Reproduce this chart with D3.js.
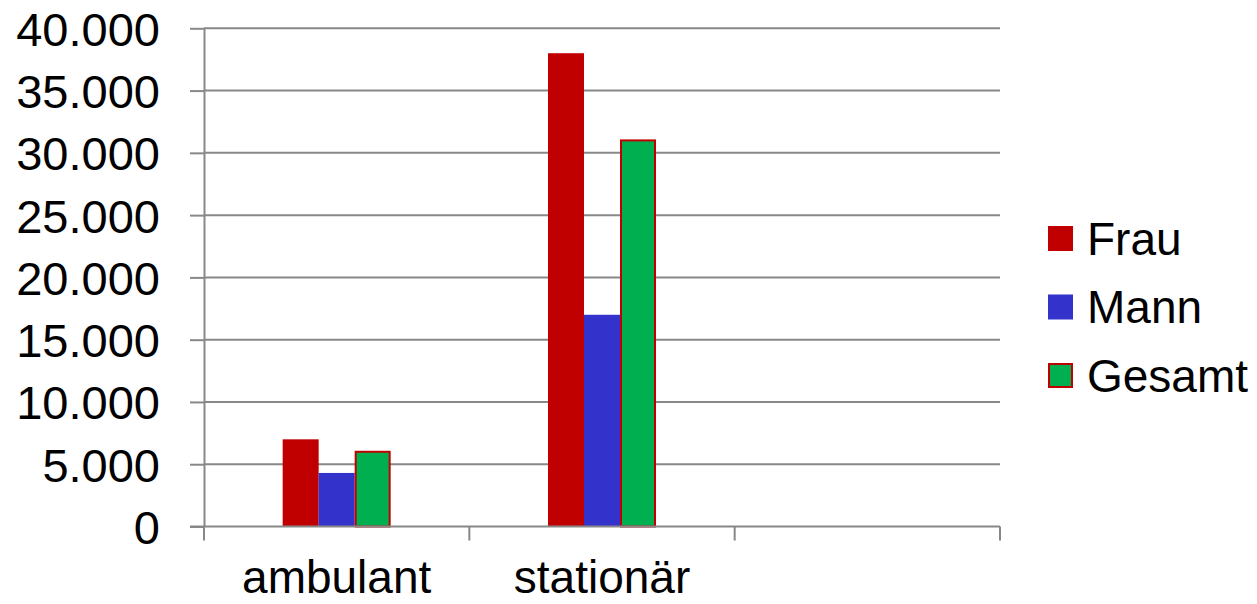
<!DOCTYPE html>
<html>
<head>
<meta charset="utf-8">
<script src="https://cdn.jsdelivr.net/npm/d3@7"></script>
<style>
  html, body { margin: 0; padding: 0; background: #fff; }
  svg { display: block; font-family: "Liberation Sans", Arial, sans-serif; }
</style>
</head>
<body>
<svg id="chart" width="1257" height="604"></svg>
<script>
const categories = ["ambulant", "stationär", ""];
const seriesNames = ["Frau", "Mann", "Gesamt"];
const frau   = [7000, 38000, null];
const mann   = [4300, 17000, null];
const gesamt = [6000, 31000, null];
const yTicks = [0, 5000, 10000, 15000, 20000, 25000, 30000, 35000, 40000];
const colors = ["#C00000", "#3333CC", "#00B050"];
const strokes = ["none", "none", "#C00000"];

const seriesValues = [frau, mann, gesamt];
const svg = d3.select("#chart");
const plotLeft = 204, plotRight = 1000, plotTop = 28.3, plotBottom = 526.5;

const x0 = d3.scaleBand().domain(categories).range([plotLeft, plotRight]).paddingInner(0).paddingOuter(0);
const groupFrac = 108 / 265.33;
const x1 = d3.scaleBand().domain(seriesNames).range([0, x0.bandwidth() * groupFrac]).padding(0);
const y = d3.scaleLinear().domain([0, 40000]).range([plotBottom, plotTop]);

const fmt = d => d3.format(",")(d).replace(/,/g, ".");
const gridColor = "#888888";

// gridlines
svg.append("g").selectAll("line").data(yTicks.filter(t => t > 0)).join("line")
  .attr("x1", plotLeft).attr("x2", plotRight)
  .attr("y1", d => y(d)).attr("y2", d => y(d))
  .attr("stroke", gridColor).attr("stroke-width", 2);

// y axis
const yAxis = svg.append("g").attr("transform", `translate(${plotLeft},0)`)
  .call(d3.axisLeft(y).tickValues(yTicks).tickFormat(fmt).tickSize(14).tickSizeOuter(0).tickPadding(30));
yAxis.select(".domain").attr("stroke", gridColor).attr("stroke-width", 2);
yAxis.selectAll(".tick line").attr("stroke", gridColor).attr("stroke-width", 2);
yAxis.selectAll(".tick text").attr("font-size", 47).attr("fill", "#000")
  .attr("font-family", "Liberation Sans, Arial, sans-serif").attr("dy", "0.36em");

// bars
const groups = svg.append("g").selectAll("g").data(categories).join("g")
  .attr("transform", c => `translate(${x0(c) + (x0.bandwidth() - x0.bandwidth() * groupFrac) / 2},0)`);
groups.selectAll("rect")
  .data((c, ci) => seriesNames.map((s, si) => ({ s, si, v: seriesValues[si][ci] })).filter(d => d.v != null))
  .join("rect")
  .attr("x", d => x1(d.s) + (d.si === 2 ? 1 : 0))
  .attr("width", d => x1.bandwidth() - (d.si === 2 ? 2 : 0))
  .attr("y", d => y(d.v))
  .attr("height", d => plotBottom - y(d.v))
  .attr("fill", d => colors[d.si])
  .attr("stroke", d => strokes[d.si])
  .attr("stroke-width", 2);

// x axis
const xAxis = svg.append("g").attr("transform", `translate(0,${plotBottom})`);
xAxis.append("line").attr("x1", plotLeft - 14).attr("x2", plotRight).attr("y1", 0).attr("y2", 0)
  .attr("stroke", gridColor).attr("stroke-width", 2);
const tickXs = categories.map(c => x0(c)).concat([x0(categories[categories.length - 1]) + x0.bandwidth()]);
xAxis.selectAll("line.t").data(tickXs).join("line").attr("class", "t")
  .attr("x1", d => d).attr("x2", d => d).attr("y1", 0).attr("y2", 14)
  .attr("stroke", gridColor).attr("stroke-width", 2);
xAxis.selectAll("text").data(categories).join("text")
  .attr("x", c => x0(c) + x0.bandwidth() / 2).attr("y", 66)
  .attr("text-anchor", "middle").attr("font-size", 46).attr("fill", "#000")
  .text(c => c);

// legend
const legend = svg.append("g").attr("transform", "translate(1048,226)");
const li = legend.selectAll("g").data(seriesNames).join("g")
  .attr("transform", (d, i) => `translate(0,${i * 68.5})`);
li.append("rect").attr("x", (d, i) => i === 2 ? 1 : 0).attr("y", (d, i) => i === 2 ? 1 : 0)
  .attr("width", (d, i) => i === 2 ? 23 : 25).attr("height", (d, i) => i === 2 ? 23 : 25)
  .attr("fill", (d, i) => colors[i]).attr("stroke", (d, i) => strokes[i]).attr("stroke-width", 2);
li.append("text").attr("x", 39).attr("y", 28.5).attr("font-size", 46).attr("fill", "#000").text(d => d);
</script>
</body>
</html>
